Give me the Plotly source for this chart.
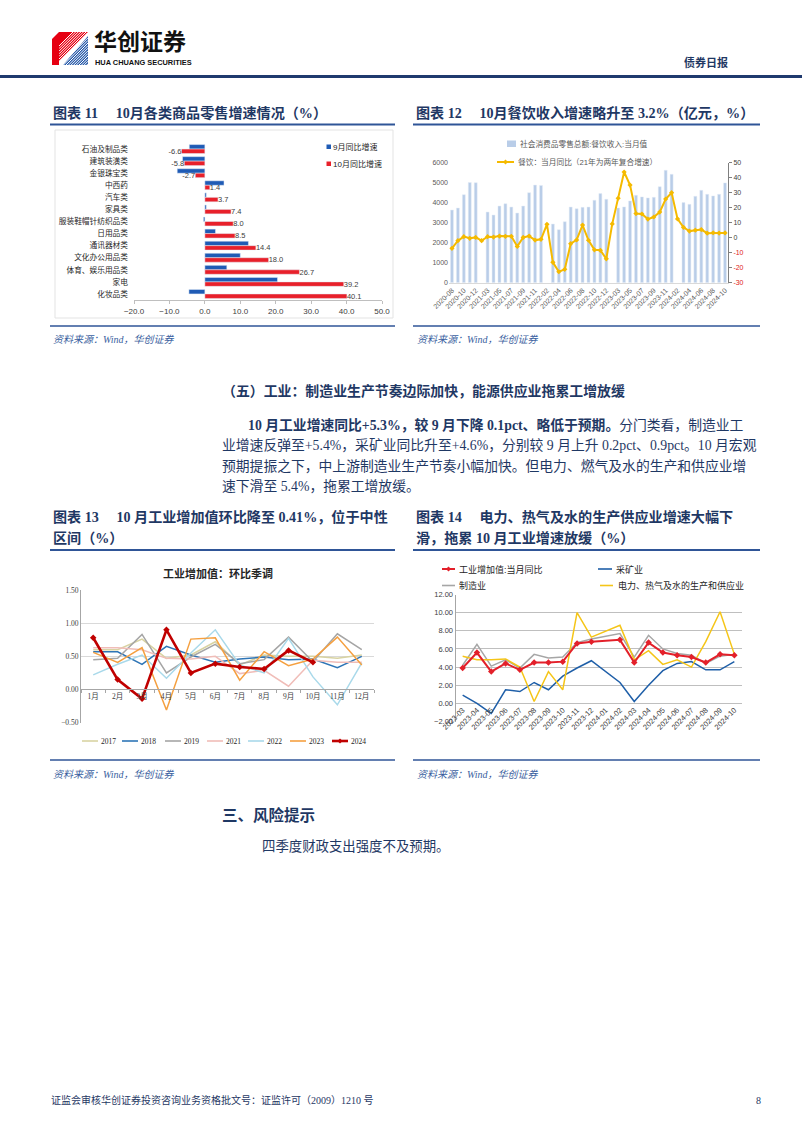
import plotly.graph_objects as go

W, H = 802, 1133
def X(px): return px / W
def Y(py): return 1 - py / H

SANS = "Liberation Sans, Noto Sans CJK SC, sans-serif"
SERIF = "Liberation Serif, Noto Sans CJK SC, serif"
NAVY = "#1F3864"
RULE = "#2F5597"
SRC = "#3B5FA0"
GAP = "\u00a0" * 5

# ---------------- data ----------------
cat11 = ["石油及制品类", "建筑装潢类", "金银珠宝类", "中西药", "汽车类", "家具类",
         "服装鞋帽针纺织品类", "日用品类", "通讯器材类", "文化办公用品类",
         "体育、娱乐用品类", "家电", "化妆品类"]
sep11 = [-4.4, -6.3, -7.8, 5.4, 0.4, 0.4, -0.4, 3.0, 12.3, 10.0, 6.2, 20.5, -4.5]
oct11 = [-6.6, -5.8, -2.7, 1.4, 3.7, 7.4, 8.0, 8.5, 14.4, 18.0, 26.7, 39.2, 40.1]

months12 = ["2020-08", "2020-09", "2020-10", "2020-11", "2020-12", "2021-02", "2021-03",
            "2021-04", "2021-05", "2021-06", "2021-07", "2021-08", "2021-09", "2021-10",
            "2021-11", "2021-12", "2022-02", "2022-03", "2022-04", "2022-05", "2022-06",
            "2022-07", "2022-08", "2022-09", "2022-10", "2022-11", "2022-12", "2023-02",
            "2023-03", "2023-04", "2023-05", "2023-06", "2023-07", "2023-08", "2023-09",
            "2023-10", "2023-11", "2023-12", "2024-02", "2024-03", "2024-04", "2024-05",
            "2024-06", "2024-07", "2024-08", "2024-09", "2024-10"]
food12 = [3633, 3733, 4400, 5010, 5000, None, 3533, 3383, 3833, 3950, 3783, 3483, 3833,
          4500, 4880, 4865, None, 2933, 2650, 3050, 3783, 3700, 3767, 3783, 4122, 4454,
          4172, None, 3740, 3790, 4090, 4371, 4290, 4240, 4270, 4800, 5620, 5420, None,
          4005, 3920, 4320, 4620, 4420, 4340, 4420, 4990]
yoy12 = [-7.1, -2.0, 0.7, -0.4, 0.2, -2.0, 0.7, 0.4, 1.1, 0.9, 0.9, -5.8, 0.2, 1.1, -1.6,
         -1.1, 8.9, -16.4, -22.7, -21.1, -4.0, -1.5, 8.4, -1.7, -8.1, -8.4, -14.1, 9.2,
         26.3, 43.8, 35.1, 16.1, 15.8, 12.4, 13.8, 17.1, 25.8, 30.0, 12.5, 6.9, 4.4, 5.0,
         5.4, 3.0, 3.3, 3.1, 3.2]
right12_vals = [-30, -20, -10, 0, 10, 20, 30, 40, 50]

months13 = ["1月", "2月", "3月", "4月", "5月", "6月", "7月", "8月", "9月", "10月", "11月", "12月"]
y2017 = [0.60, 0.60, 0.76, 0.47, 0.52, 0.72, 0.37, 0.52, 0.50, 0.50, 0.47, 0.52]
y2018 = [0.57, 0.57, 0.38, 0.65, 0.52, 0.41, 0.46, 0.49, 0.45, 0.46, 0.33, 0.50]
y2019 = [0.45, 0.47, 0.83, 0.25, 0.49, 0.68, 0.39, 0.45, 0.79, 0.42, 0.84, 0.60]
y2021 = [0.63, 0.63, 0.60, 0.47, 0.46, 0.50, 0.24, 0.29, 0.05, 0.44, 0.41, 0.41]
y2022 = [0.22, 0.38, 0.52, 0.17, 0.55, 0.90, 0.37, 0.25, 0.77, 0.19, -0.23, 0.40]
y2023 = [0.56, 0.41, 0.63, -0.31, 0.76, 0.78, 0.14, 0.57, 0.36, 0.46, 0.79, 0.37]
y2024 = [0.78, 0.15, -0.14, 0.90, 0.25, 0.39, 0.34, 0.31, 0.59, 0.41]
years13 = ["2017", "2018", "2019", "2021", "2022", "2023", "2024"]

months14 = ["2023-03", "2023-04", "2023-05", "2023-06", "2023-07", "2023-08", "2023-09",
            "2023-10", "2023-11", "2023-12", "2024-01", "2024-02", "2024-03", "2024-04",
            "2024-05", "2024-06", "2024-07", "2024-08", "2024-09", "2024-10"]
ind14 = [3.9, 5.6, 3.5, 4.4, 3.7, 4.5, 4.5, 4.6, 6.6, 6.8, None, 7.0, 4.5, 6.7, 5.6, 5.3, 5.1, 4.5, 5.4, 5.3]
mfg14 = [4.2, 6.5, 4.1, 4.8, 3.9, 5.4, 5.0, 5.1, 6.7, 7.1, None, 7.7, 5.1, 7.5, 6.0, 5.5, 5.3, 4.4, 5.2, 5.4]
mine14 = [0.9, 0.0, -1.1, 1.5, 1.3, 2.3, 1.5, 3.0, 3.9, 4.7, None, 2.3, 0.2, 2.0, 3.6, 4.4, 4.6, 3.7, 3.7, 4.6]
util14 = [5.2, 4.8, 4.8, 4.9, 4.0, 0.2, 3.5, 1.5, 10.0, 7.3, None, 8.6, 4.8, 5.8, 4.3, 4.8, 4.0, 6.8, 10.1, 5.4]

# ---------------- colors ----------------
C11_BLUE = "#1F5BB5"
C11_RED = "#E8202A"
C12_BAR = "#B9CDE8"
C12_LINE = "#F5BA00"
C13 = {"2017": "#D8D3A2", "2018": "#2E75B6", "2019": "#A5A5A5", "2021": "#F0BDB8",
       "2022": "#A9D9EA", "2023": "#F5A040", "2024": "#C00000"}
C14_RED = "#E3202A"
C14_BLUE = "#1F5FA8"
C14_GRAY = "#A6A6A6"
C14_YEL = "#F5C518"

fig = go.Figure()

# ---------------- chart 11 ----------------
fig.add_trace(go.Bar(y=cat11, x=sep11, orientation="h", marker_color=C11_BLUE,
                     width=0.37, offset=-0.37, xaxis="x", yaxis="y", showlegend=False,
                     name="9月同比增速"))
fig.add_trace(go.Bar(y=cat11, x=oct11, orientation="h", marker_color=C11_RED,
                     width=0.37, offset=0.0, xaxis="x", yaxis="y", showlegend=False,
                     name="10月同比增速",
                     text=[f"{v:.1f}" for v in oct11], textposition="outside",
                     textfont=dict(size=7.5, color="#404040", family=SANS),
                     constraintext="none", cliponaxis=False))

# ---------------- chart 12 ----------------
fig.add_trace(go.Bar(x=months12, y=food12, marker_color=C12_BAR, width=0.5,
                     xaxis="x2", yaxis="y2", showlegend=False,
                     name="社会消费品零售总额:餐饮收入:当月值"))
fig.add_trace(go.Scatter(x=months12, y=yoy12, mode="lines+markers",
                         line=dict(color=C12_LINE, width=2),
                         marker=dict(symbol="diamond", size=4, color=C12_LINE),
                         xaxis="x2", yaxis="y3", showlegend=False,
                         name="餐饮：当月同比（21年为两年复合增速）"))

# ---------------- chart 13 ----------------
series13 = [y2017, y2018, y2019, y2021, y2022, y2023, y2024]
for yr, vals in zip(years13, series13):
    if yr == "2024":
        fig.add_trace(go.Scatter(x=months13[:len(vals)], y=vals, mode="lines+markers",
                                 line=dict(color=C13[yr], width=2.6),
                                 marker=dict(symbol="diamond", size=5, color=C13[yr]),
                                 xaxis="x4", yaxis="y4", showlegend=False, name=yr))
    else:
        fig.add_trace(go.Scatter(x=months13, y=vals, mode="lines",
                                 line=dict(color=C13[yr], width=1.5),
                                 xaxis="x4", yaxis="y4", showlegend=False, name=yr))

# ---------------- chart 14 ----------------
fig.add_trace(go.Scatter(x=months14, y=mfg14, mode="lines", connectgaps=True,
                         line=dict(color=C14_GRAY, width=1.5), xaxis="x5", yaxis="y5",
                         showlegend=False, name="制造业"))
fig.add_trace(go.Scatter(x=months14, y=mine14, mode="lines", connectgaps=True,
                         line=dict(color=C14_BLUE, width=1.5), xaxis="x5", yaxis="y5",
                         showlegend=False, name="采矿业"))
fig.add_trace(go.Scatter(x=months14, y=util14, mode="lines", connectgaps=True,
                         line=dict(color=C14_YEL, width=1.5), xaxis="x5", yaxis="y5",
                         showlegend=False, name="电力、热气及水的生产和供应业"))
fig.add_trace(go.Scatter(x=months14, y=ind14, mode="lines+markers", connectgaps=True,
                         line=dict(color=C14_RED, width=2),
                         marker=dict(symbol="diamond", size=5, color=C14_RED),
                         xaxis="x5", yaxis="y5", showlegend=False, name="工业增加值:当月同比"))

fig.update_layout(
    width=W, height=H, autosize=False,
    margin=dict(l=0, r=0, t=0, b=0, pad=0),
    paper_bgcolor="white", plot_bgcolor="white",
    barmode="overlay", showlegend=False,
    # chart 11
    xaxis=dict(domain=[X(134), X(382)], anchor="y", range=[-20, 50], dtick=10, tick0=0,
               tickformat=".1f", showline=True, linecolor="#BFBFBF", ticks="outside",
               ticklen=3, tickcolor="#BFBFBF", showgrid=False, zeroline=False,
               automargin=False,
               tickfont=dict(size=8, color="#404040", family=SANS)),
    yaxis=dict(domain=[Y(300), Y(143)], anchor="x", type="category",
               categoryorder="array", categoryarray=cat11, autorange="reversed",
               showgrid=False, ticks="", showline=False, zeroline=False,
               automargin=False, ticklabelstandoff=5,
               tickfont=dict(size=7.7, color="#262626", family=SANS)),
    # chart 12
    xaxis2=dict(domain=[X(449), X(728)], anchor="y2", type="category",
                categoryorder="array", categoryarray=months12, range=[-0.5, len(months12) - 0.5],
                tickmode="array", tickvals=months12[::2], tickangle=-45,
                tickfont=dict(size=7, color="#595959", family=SANS), automargin=False,
                showline=True, linecolor="#D9D9D9", ticks="", showgrid=False),
    yaxis2=dict(domain=[Y(282.7), Y(162.7)], anchor="x2", range=[0, 6000], dtick=1000,
                showgrid=False, zeroline=False, showline=False, automargin=False,
                tickfont=dict(size=7, color="#595959", family=SANS)),
    yaxis3=dict(overlaying="y2", anchor="x2", side="right", range=[-30, 50],
                tickmode="array", tickvals=right12_vals,
                ticktext=[(f'<span style="color:#E02020">{v}</span>' if v < 0 else str(v))
                          for v in right12_vals],
                showline=True, linecolor="#7F7F7F", ticks="outside", ticklen=3,
                tickcolor="#7F7F7F", showgrid=False, zeroline=False, automargin=False,
                tickfont=dict(size=7, color="#404040", family=SANS)),
    # chart 13
    xaxis4=dict(domain=[X(81), X(374)], anchor="free", position=Y(689.3), type="category",
                categoryorder="array", categoryarray=months13, range=[-0.5, 11.5],
                ticks="outside", tickson="boundaries", ticklen=3, tickcolor="#A6A6A6",
                showline=True, linecolor="#A6A6A6", tickangle=0, showgrid=False,
                automargin=False,
                tickfont=dict(size=7.5, color="#404040", family=SERIF)),
    yaxis4=dict(domain=[Y(722.7), Y(590)], anchor="x4", range=[-0.5, 1.5], dtick=0.5,
                tick0=0, tickformat=".2f", showgrid=True, gridcolor="#D9D9D9",
                showline=True, linecolor="#A6A6A6", zeroline=False, automargin=False,
                tickfont=dict(size=7.5, color="#404040", family=SERIF)),
    # chart 14
    xaxis5=dict(domain=[X(455.5), X(741.5)], anchor="free", position=Y(703.3),
                type="category", categoryorder="array", categoryarray=months14,
                range=[-0.5, len(months14) - 0.5], tickangle=-45, ticks="",
                showline=False, showgrid=False, automargin=False,
                tickfont=dict(size=7.5, color="#404040", family=SANS)),
    yaxis5=dict(domain=[Y(721.5), Y(594.5)], anchor="x5", range=[-2, 12], dtick=2,
                tick0=0, tickformat=".2f", showgrid=True, gridcolor="#BFBFBF",
                showline=True, linecolor="#A6A6A6", zeroline=False, automargin=False,
                tickfont=dict(size=7.5, color="#404040", family=SANS)),
)

shapes = []
ann = []

def hline(x0, x1, y, color, width):
    shapes.append(dict(type="line", xref="paper", yref="paper", x0=X(x0), x1=X(x1),
                       y0=Y(y), y1=Y(y), line=dict(color=color, width=width)))

def rect(x0, y0, x1, y1, fill, line=None):
    shapes.append(dict(type="rect", xref="paper", yref="paper", x0=X(x0), x1=X(x1),
                       y0=Y(y1), y1=Y(y0), fillcolor=fill,
                       line=dict(width=0) if line is None else line))

def poly(pts, fill):
    p = "M " + " L ".join(f"{X(a):.5f},{Y(b):.5f}" for a, b in pts) + " Z"
    shapes.append(dict(type="path", xref="paper", yref="paper", path=p,
                       fillcolor=fill, line=dict(width=0)))

def txt(s, x, y, size, color=NAVY, family=SERIF, anchor="left", bold=False, italic=False):
    s = s.replace("  ", "\u00a0\u00a0")
    if bold:
        s = f"<b>{s}</b>"
    if italic:
        s = f"<i>{s}</i>"
    ann.append(dict(text=s, xref="paper", yref="paper", x=X(x), y=Y(y), xanchor=anchor,
                    yanchor="middle", showarrow=False, borderpad=0,
                    font=dict(size=size, color=color, family=family)))

def diamond(cx, cy, r, color):
    poly([(cx, cy - r), (cx + r, cy), (cx, cy + r), (cx - r, cy)], color)

# ---------------- header ----------------
poly([(59, 32), (88, 32), (59, 61)], "#E60012")
poly([(88, 36), (88, 65), (63, 65)], "#2A5CAA")
for k in range(0, 26):
    a = 40 + 2.6 * k
    x0, y0, x1, y1 = a, 65.0, a + 33, 32.0
    if x0 < 59:
        y0 = 65 - (59 - x0); x0 = 59
    if x1 > 88:
        y1 = 32 + (x1 - 88); x1 = 88
    if x1 > x0:
        shapes.append(dict(type="line", xref="paper", yref="paper", x0=X(x0), y0=Y(y0),
                           x1=X(x1), y1=Y(y1), line=dict(color="white", width=1)))
poly([(52, 39), (59, 32), (59, 65), (52, 65)], "#E60012")
txt("华创证券", 93, 40, 23, color="#111111", family="Noto Sans CJK SC", bold=True)
txt("HUA CHUANG SECURITIES", 94, 62.5, 7.4, color="#111111", family=SANS, bold=True)
txt("债券日报", 729, 62, 11, color=NAVY, family=SERIF, anchor="right", bold=True)
hline(0, 802, 76.5, "#1F3A6E", 3)

# ---------------- chart titles & rules ----------------
TS = 14.1
txt(f"图表 11{GAP}10月各类商品零售增速情况（%）", 52, 113, TS, bold=True)
txt(f"图表 12{GAP}10月餐饮收入增速略升至 3.2%（亿元，%）", 415, 113, TS, bold=True)
hline(50, 395, 124.5, RULE, 2)
hline(413, 760, 124.5, RULE, 2)
rect(55, 130, 393, 318, "rgba(0,0,0,0)", line=dict(color="#E3E3E3", width=1))
hline(50, 395, 326, RULE, 1.5)
hline(413, 760, 326, RULE, 1.5)
txt("资料来源：Wind，华创证券", 52, 339.5, 10, color=SRC, italic=True)
txt("资料来源：Wind，华创证券", 416, 339.5, 10, color=SRC, italic=True)

# chart 11 legend
rect(326.5, 144.5, 331, 149, C11_BLUE)
txt("9月同比增速", 332, 147, 8, color="#262626", family=SANS)
rect(326.5, 161.5, 331, 166, C11_RED)
txt("10月同比增速", 332, 164, 8, color="#262626", family=SANS)

# chart 12 legend
rect(507, 140.5, 516, 147, C12_BAR)
txt("社会消费品零售总额:餐饮收入:当月值", 519, 143.7, 7.7, color="#595959", family=SANS)
hline(497, 514, 162, C12_LINE, 2)
diamond(505.5, 162, 2.5, C12_LINE)
txt("餐饮：当月同比（21年为两年复合增速）", 517, 162, 7.7, color="#595959", family=SANS)

# ---------------- body text ----------------
BS = 13.8
txt("（五）工业：制造业生产节奏边际加快，能源供应业拖累工增放缓", 221, 391.5, 13.9, bold=True)
txt("<b>10 月工业增速同比+5.3%，较 9 月下降 0.1pct、略低于预期。</b>分门类看，制造业工",
    247, 425, BS)
txt("业增速反弹至+5.4%，采矿业同比升至+4.6%，分别较 9 月上升 0.2pct、0.9pct。10 月宏观",
    221, 445.5, BS)
txt("预期提振之下，中上游制造业生产节奏小幅加快。但电力、燃气及水的生产和供应业增",
    221, 466, BS)
txt("速下滑至 5.4%，拖累工增放缓。", 221, 486, BS)

# ---------------- second row titles ----------------
txt(f"图表 13{GAP}10 月工业增加值环比降至 0.41%，位于中性", 52, 517, TS, bold=True)
txt("区间（%）", 52, 537.5, TS, bold=True)
txt(f"图表 14{GAP}电力、热气及水的生产供应业增速大幅下", 415, 517, TS, bold=True)
txt("滑，拖累 10 月工业增速放缓（%）", 415, 537.5, TS, bold=True)
hline(50, 395, 550, RULE, 2)
hline(413, 760, 550, RULE, 2)
hline(50, 395, 760, RULE, 1.5)
hline(413, 760, 760, RULE, 1.5)
txt("资料来源：Wind，华创证券", 52, 774, 10, color=SRC, italic=True)
txt("资料来源：Wind，华创证券", 416, 774, 10, color=SRC, italic=True)

# chart 13 title and legend
txt("工业增加值：环比季调", 218, 573, 11, color="#262626", family=SERIF, anchor="center", bold=True)
leg13_x = {"2017": 82, "2018": 122, "2019": 165, "2021": 207, "2022": 248, "2023": 290, "2024": 332}
for yr in years13:
    x0 = leg13_x[yr]
    hline(x0, x0 + 16, 741, C13[yr], 2.6 if yr == "2024" else 1.6)
    if yr == "2024":
        diamond(x0 + 8, 741, 2.6, C13[yr])
    txt(yr, x0 + 18, 741, 7.5, color="#262626", family=SERIF)

# chart 14 legend
hline(442, 455, 569, C14_RED, 2)
diamond(448.5, 569, 2.6, C14_RED)
txt("工业增加值:当月同比", 458, 569, 9, color="#262626", family=SANS)
hline(598, 612, 569, C14_BLUE, 1.6)
txt("采矿业", 615, 569, 9, color="#262626", family=SANS)
hline(442, 455, 585.5, C14_GRAY, 1.6)
txt("制造业", 458, 585.5, 9, color="#262626", family=SANS)
hline(600, 613, 585.5, C14_YEL, 1.6)
txt("电力、热气及水的生产和供应业", 616.5, 585.5, 9, color="#262626", family=SANS)

# ---------------- risk section & footer ----------------
txt("三、风险提示", 221, 815, 15.5, bold=True)
txt("四季度财政支出强度不及预期。", 261, 846.5, 13.4)
txt("证监会审核华创证券投资咨询业务资格批文号：证监许可（2009）1210 号", 50, 1100, 10, color=NAVY)
txt("8", 758, 1100, 10, color=NAVY, anchor="center")

fig.update_layout(shapes=shapes, annotations=ann)
fig.write_html("out.html", config={"displayModeBar": False})
